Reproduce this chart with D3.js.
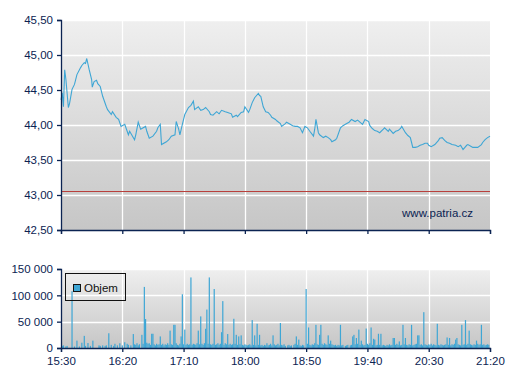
<!DOCTYPE html>
<html>
<head>
<meta charset="utf-8">
<script src="https://cdn.jsdelivr.net/npm/d3@7/dist/d3.min.js"></script>
<style>
  body { margin: 0; background: #fff; }
  svg { display: block; font-family: "Liberation Sans", Arial, sans-serif; }
</style>
</head>
<body>
<div id="chart"></div>
<script>
const W = 507, H = 380;

// minutes since 15:30 -> price
const priceMinutes = [0,1,2,3,4,6,7,9,11,13,16,17,19,20,21,23,25,25.5,27,29,30,32,34,37,38,41,42,45,47,49,52,55,56,60,61,63,65,69,70,72,75,78,79,81,82,86,88,90,93,94,96,97,99,101,104,106,108,109,112,114,116,118,121,122,124,127,129,131,134,136,139,140,143,144,147,149,150,153,154,156,158,161,162,163,165,167,169,171,172,175,176,179,180,183,184,187,189,191,193,195,197,199,201,203,206,207,208,210,211,214,216,218,220,221,224,225,228,230,232,235,237,240,242,246,248,251,252,254,256,258,260,263,264,267,268,271,273,275,277,278,281,283,285,286,287,289,291,293,295,297,299,300,302,304,305,308,309,311,313,315,317,319,322,324,326,328,331,332,335,336,339,340,343,344,346,348,350];
const priceValues = [44.36,44.46,44.26,44.79,44.65,44.25,44.31,44.51,44.58,44.72,44.82,44.85,44.89,44.88,44.95,44.79,44.65,44.54,44.62,44.64,44.59,44.55,44.41,44.26,44.22,44.15,44.19,44.11,44.08,43.98,44.01,43.86,43.91,43.79,43.86,44.04,43.94,43.98,43.91,43.81,43.84,43.91,43.96,44.01,43.72,43.76,43.79,43.84,43.86,44.05,43.94,43.86,44.01,44.15,44.25,44.28,44.34,44.22,44.26,44.21,44.22,44.25,44.19,44.15,44.14,44.19,44.16,44.21,44.19,44.18,44.16,44.11,44.14,44.12,44.18,44.19,44.26,44.18,44.22,44.32,44.39,44.45,44.42,44.41,44.26,44.19,44.18,44.14,44.11,44.08,44.06,44.02,43.98,44.02,44.04,44.01,43.99,43.98,43.98,43.96,43.89,43.98,43.96,43.91,43.84,43.94,44.08,43.89,43.86,43.82,43.84,43.82,43.79,43.76,43.79,43.81,43.96,43.99,44.01,44.04,44.08,44.05,44.07,44.01,44.08,44.05,43.99,43.95,43.92,43.91,43.89,43.94,43.96,43.91,43.94,43.88,43.91,43.92,43.95,43.98,43.89,43.85,43.82,43.75,43.68,43.68,43.69,43.71,43.72,43.74,43.74,43.71,43.69,43.71,43.72,43.78,43.81,43.82,43.78,43.75,43.74,43.72,43.71,43.69,43.71,43.65,43.71,43.72,43.69,43.68,43.68,43.68,43.72,43.75,43.79,43.82,43.84];

// minutes since 15:30 -> traded volume
const volume = [[1,4000],[2,5000],[4,3000],[5,4000],[9,108000],[11,3000],[13,14000],[15,3000],[17,10000],[19,23000],[20,4000],[22,9500],[24,4000],[26,14000],[31,5000],[32,4000],[34,5000],[36,4000],[37,5000],[39,28000],[41,6000],[43,4000],[44,8000],[46,5000],[48,9000],[50,5000],[52,11000],[54,8000],
[55,6000],[57,5000],[59,26500],[60,7000],[61,6000],[62,9000],[63,5000],[64,7000],[66,25000],[67,8000],[68,116000],[69,55000],[70,10000],[71,8000],[72,9000],[73,6000],[74,27000],[75,27000],[76,7000],[77,5000],[78,8000],[79,6000],[80,7000],[81,22000],[82,6000],[83,8000],[84,5000],[85,7000],[86,6000],[87,9000],[88,6000],[89,33000],[90,7000],[91,6000],[92,44000],[93,44000],[94,9000],[95,6000],[96,5000],[97,8000],[98,22000],[99,102000],[100,7000],[101,35000],[102,6000],[103,8000],[104,6000],[105,7000],[106,134000],[107,6000],[108,8000],[109,7000],[110,6000],[111,9000],[112,33000],[113,7000],[114,60000],[115,8000],[116,6000],[117,9000],[118,36500],[119,73000],[120,8000],[121,134000],[122,7000],[123,6000],[124,8000],[125,112000],[126,6000],[127,7000],[128,9000],[129,6000],[130,8000],[131,30000],[132,89000],[133,6000],[134,9000],[135,7000],[136,26500],[137,6000],[138,8000],[139,6000],[140,7000],[141,55500],[142,8000],[143,25000],[144,6000],[145,22000],[146,7000],[147,24000],[148,6000],[149,5000],[150,7000],[151,6000],[152,5000],[153,6000],[154,7000],[155,5000],[156,53000],[157,6000],[158,24000],[159,5000],[160,46000],[161,6000],[162,25000],[163,5000],[164,6000],[165,4000],[166,6000],[167,5000],[168,9000],[169,5000],[170,6000],[171,8000],[172,5000],[173,24000],[174,7000],[175,5000],[176,6000],[177,8000],[178,5000],[179,47500],[180,6000],[181,5000],[182,7000],[183,4000],[185,5000],[186,6000],[187,4000],[188,5000],[190,6000],[191,8000],[192,22000],[193,6000],[194,16000],[195,5000],[196,4000],[197,6000],[198,5000],[200,112000],[201,8000],[202,39000],[203,6000],[204,5000],[205,7000],[206,6000],[207,9000],[208,44000],[209,7000],[210,6000],[211,25000],[212,44000],[213,8000],[214,6000],[215,9000],[216,7000],[217,6000],[218,24000],[219,8000],[220,14000],[221,7000],[222,6000],[223,5000],[224,6000],[225,4000],[226,6000],[227,5000],[228,44000],[229,5000],[230,6000],[232,4000],[233,5000],[234,6000],[236,5000],[237,6000],[238,22000],[239,25000],[240,7000],[241,19000],[242,8000],[243,35000],[244,6000],[245,14000],[246,7000],[247,5000],[248,6000],[249,37000],[250,8000],[251,6000],[252,9000],[253,39000],[254,6000],[255,17500],[256,16000],[257,5000],[258,6000],[259,27000],[260,6000],[261,27000],[262,5000],[263,6000],[264,5000],[265,4000],[266,6000],[267,5000],[268,7000],[269,5000],[270,6000],[271,19000],[272,19000],[273,6000],[274,8000],[275,6000],[276,12500],[277,5000],[278,6000],[279,44000],[280,7000],[281,19000],[282,6000],[283,5000],[284,7000],[285,6000],[286,44000],[287,5000],[288,6000],[289,7000],[290,8000],[291,24000],[292,24000],[293,6000],[294,7000],[295,5000],[296,68000],[297,7000],[298,6000],[299,5000],[300,7000],[301,6000],[302,8000],[303,5000],[304,7000],[305,6000],[306,5000],[307,46000],[308,6000],[309,5000],[310,7000],[311,6000],[312,5000],[313,6000],[314,7000],[315,20000],[316,6000],[317,19000],[318,5000],[319,7000],[320,6000],[321,8000],[322,16000],[323,19000],[324,7000],[325,6000],[326,5000],[327,44000],[328,6000],[329,7000],[330,53000],[331,6000],[332,8000],[333,33000],[334,7000],[335,6000],[336,5000],[337,7000],[338,6000],[339,14000],[340,8000],[341,6000],[342,7000],[343,44000],[344,6000],[345,7000],[346,5000],[347,6000],[348,7000],[349,6000]];

const timeTicks = ["15:30","16:20","17:10","18:00","18:50","19:40","20:30","21:20"];
const priceTicks = [42.5,43,43.5,44,44.5,45,45.5];
const volumeTicks = [0,50000,100000,150000];
const prevClose = 43.06;

const navy = "#0b2352", blue = "#3ea6d5";
const base = new Date(2024, 0, 8, 15, 30);
const t = m => new Date(base.getTime() + m * 60000);
const parseHM = s => { const [h, mm] = s.split(":").map(Number); return new Date(2024, 0, 8, h, mm); };

const cz = d3.formatLocale({ decimal: ",", thousands: "\u00a0", grouping: [3], currency: ["", " Kč"] });
const fmtPrice = cz.format(",.2f"), fmtVol = cz.format(",d");

const svg = d3.select("#chart").append("svg").attr("width", W).attr("height", H);

const x = d3.scaleTime().domain([parseHM("15:30"), parseHM("21:20")]).range([61, 490]);
const yP = d3.scaleLinear().domain([42.5, 45.5]).range([230, 20]);
const yV = d3.scaleLinear().domain([0, 150000]).range([348, 269]);

const defs = svg.append("defs");
const grad = defs.append("linearGradient").attr("id", "bg").attr("x1", 0).attr("y1", 0).attr("x2", 0).attr("y2", 1);
grad.append("stop").attr("offset", "0%").attr("stop-color", "#efefef");
grad.append("stop").attr("offset", "100%").attr("stop-color", "#c6c6c6");

function panel(y, top, bottom, ticks, fmt, showLabels) {
	const g = svg.append("g");
	g.append("rect")
		.attr("x", 61).attr("y", top).attr("width", 429).attr("height", bottom - top)
		.attr("fill", "url(#bg)");
	// grid
	g.selectAll(".hg").data(ticks.filter(d => y(d) < bottom - 1)).enter().append("line")
		.attr("x1", 61).attr("x2", 490)
		.attr("y1", d => Math.round(y(d)) + 0.5).attr("y2", d => Math.round(y(d)) + 0.5)
		.attr("stroke", "#fff").attr("stroke-width", 1.3);
	g.selectAll(".vg").data(timeTicks.slice(1, -1)).enter().append("line")
		.attr("x1", d => Math.round(x(parseHM(d))) + 0.5).attr("x2", d => Math.round(x(parseHM(d))) + 0.5)
		.attr("y1", top).attr("y2", bottom)
		.attr("stroke", "#fff").attr("stroke-width", 1.3);
	return g;
}

function axes(y, bottom, ticks, fmt, showLabels) {
	const ay = svg.append("g").attr("transform", "translate(61,0)")
		.call(d3.axisLeft(y).tickValues(ticks).tickFormat(fmt).tickSize(4).tickPadding(4));
	const ax = svg.append("g").attr("transform", `translate(0,${bottom})`)
		.call(d3.axisBottom(x).tickValues(timeTicks.map(parseHM)).tickSize(4).tickPadding(5)
			.tickFormat(showLabels ? d3.timeFormat("%H:%M") : ""));
	[ay, ax].forEach(a => {
		a.select(".domain").attr("stroke", navy).attr("stroke-width", 1.3);
		a.selectAll(".tick line").attr("stroke", navy).attr("stroke-width", 1.3);
		a.selectAll(".tick text").attr("fill", navy).style("font-size", "11.5px")
			.style("font-family", "'Liberation Sans', Arial, sans-serif");
	});
}

// price panel
panel(yP, 20, 230, priceTicks, fmtPrice, false);
svg.append("line")
	.attr("x1", 61).attr("x2", 490)
	.attr("y1", Math.round(yP(prevClose)) + 0.5).attr("y2", Math.round(yP(prevClose)) + 0.5)
	.attr("stroke", "#b8403c").attr("stroke-width", 1);
svg.append("text").attr("x", 473).attr("y", 217).attr("text-anchor", "end")
	.attr("fill", navy).style("font-size", "11.5px").text("www.patria.cz");
svg.append("path")
	.datum(priceMinutes.map((m, i) => [t(m), priceValues[i]]))
	.attr("fill", "none").attr("stroke", blue).attr("stroke-width", 1.1)
	.attr("d", d3.line().x(d => x(d[0])).y(d => yP(d[1])));
axes(yP, 230, priceTicks, fmtPrice, false);

// volume panel
panel(yV, 269, 348, volumeTicks, fmtVol, true);
svg.append("g").selectAll("rect").data(volume).enter().append("rect")
	.attr("x", d => x(t(d[0])) - 0.6)
	.attr("width", 1.2)
	.attr("y", d => yV(d[1]))
	.attr("height", d => yV(0) - yV(d[1]))
	.attr("fill", blue);
axes(yV, 348, volumeTicks, fmtVol, true);

// legend
const lg = svg.append("g");
lg.append("rect").attr("x", 65.5).attr("y", 273.5).attr("width", 60).attr("height", 27)
	.attr("fill", "none").attr("stroke", "#111").attr("stroke-width", 1);
lg.append("rect").attr("x", 73.5).attr("y", 284.5).attr("width", 7).attr("height", 7)
	.attr("fill", blue).attr("stroke", "#111").attr("stroke-width", 1);
lg.append("text").attr("x", 84).attr("y", 292).attr("fill", "#111")
	.style("font-size", "11.5px").text("Objem");
</script>
</body>
</html>
